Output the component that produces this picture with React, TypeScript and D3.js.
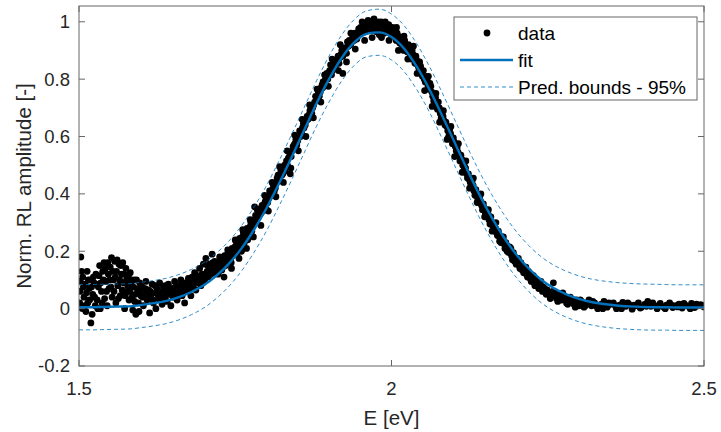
import React from "react";
import * as d3 from "d3";

// fit curve and 95% prediction bounds
const fitE = [1.5, 1.52, 1.54, 1.56, 1.58, 1.6, 1.62, 1.64, 1.66, 1.68, 1.7, 1.72, 1.74, 1.76, 1.78, 1.8, 1.82, 1.84, 1.86, 1.88, 1.9, 1.92, 1.94, 1.96, 1.98, 2.0, 2.02, 2.04, 2.06, 2.08, 2.1, 2.12, 2.14, 2.16, 2.18, 2.2, 2.22, 2.24, 2.26, 2.28, 2.3, 2.32, 2.34, 2.36, 2.38, 2.4, 2.42, 2.44, 2.46, 2.48, 2.5];
const fitV = [0.005, 0.005, 0.006, 0.007, 0.008, 0.013, 0.019, 0.027, 0.04, 0.058, 0.082, 0.115, 0.157, 0.21, 0.275, 0.35, 0.436, 0.527, 0.621, 0.715, 0.8, 0.873, 0.927, 0.958, 0.963, 0.947, 0.907, 0.845, 0.767, 0.678, 0.584, 0.49, 0.4, 0.319, 0.248, 0.188, 0.139, 0.1, 0.071, 0.05, 0.034, 0.023, 0.016, 0.011, 0.008, 0.006, 0.005, 0.005, 0.004, 0.004, 0.004];
const upperV = [0.084, 0.084, 0.085, 0.086, 0.087, 0.092, 0.098, 0.106, 0.119, 0.137, 0.161, 0.194, 0.236, 0.289, 0.354, 0.429, 0.515, 0.606, 0.7, 0.794, 0.88, 0.953, 1.007, 1.038, 1.044, 1.027, 0.987, 0.925, 0.847, 0.758, 0.664, 0.57, 0.48, 0.399, 0.328, 0.268, 0.219, 0.18, 0.151, 0.13, 0.114, 0.103, 0.096, 0.091, 0.088, 0.086, 0.085, 0.084, 0.083, 0.083, 0.083];
const lowerV = [-0.074, -0.074, -0.073, -0.072, -0.071, -0.066, -0.06, -0.052, -0.039, -0.021, 0.003, 0.036, 0.078, 0.131, 0.196, 0.271, 0.357, 0.448, 0.542, 0.636, 0.72, 0.793, 0.847, 0.878, 0.883, 0.867, 0.827, 0.765, 0.688, 0.598, 0.504, 0.41, 0.32, 0.239, 0.168, 0.108, 0.059, 0.02, -0.009, -0.03, -0.046, -0.057, -0.064, -0.069, -0.072, -0.074, -0.075, -0.075, -0.076, -0.076, -0.076];

// measured points [E, amplitude]
const dataLow = [[1.501, 0.02], [1.502, 0.095], [1.503, 0.18], [1.505, 0.0], [1.506, 0.11], [1.508, 0.04], [1.51, 0.085], [1.511, -0.01], [1.513, 0.13], [1.514, 0.02], [1.516, 0.07], [1.518, 0.1], [1.519, -0.05], [1.521, -0.02], [1.522, 0.05], [1.524, 0.09], [1.526, 0.01], [1.527, 0.12], [1.529, 0.03], [1.531, 0.075], [1.533, 0.15], [1.534, 0.0], [1.536, 0.06], [1.538, 0.13], [1.54, 0.16], [1.541, 0.035], [1.543, 0.095], [1.545, 0.01], [1.547, 0.12], [1.548, 0.07], [1.55, 0.145], [1.552, 0.178], [1.553, 0.04], [1.555, 0.1], [1.557, 0.165], [1.559, 0.02], [1.56, 0.13], [1.562, 0.08], [1.564, 0.155], [1.566, 0.045], [1.568, 0.12], [1.57, 0.16], [1.571, 0.09], [1.573, 0.0], [1.575, 0.14], [1.577, 0.06], [1.579, 0.11], [1.58, 0.03], [1.582, 0.125], [1.584, 0.08], [1.586, -0.005], [1.588, 0.1], [1.59, 0.05], [1.591, -0.02], [1.593, 0.07], [1.595, 0.02], [1.597, 0.09], [1.599, 0.045]];
const dataLow2 = [[1.5015, 0.06], [1.504, 0.13], [1.507, 0.075], [1.509, 0.01], [1.512, 0.055], [1.515, 0.1], [1.517, 0.03], [1.52, 0.075], [1.523, 0.11], [1.525, 0.04], [1.528, 0.085], [1.53, 0.0], [1.532, 0.115], [1.535, 0.09], [1.537, 0.02], [1.539, 0.1], [1.542, 0.14], [1.544, 0.06], [1.546, 0.16], [1.549, 0.1], [1.551, 0.075], [1.554, 0.13], [1.556, 0.06], [1.558, 0.11], [1.561, 0.17], [1.563, 0.035], [1.565, 0.1], [1.567, 0.15], [1.569, 0.065], [1.572, 0.12], [1.574, 0.045], [1.576, 0.1], [1.578, 0.08], [1.581, 0.06], [1.583, 0.1], [1.585, 0.04], [1.587, 0.075], [1.589, 0.025], [1.592, 0.1], [1.594, 0.055], [1.596, -0.01], [1.598, 0.065]];
const dataBase = [[1.601, 0.075], [1.603, 0.01], [1.605, 0.05], [1.607, 0.095], [1.609, 0.03], [1.611, 0.065], [1.613, -0.015], [1.615, 0.04], [1.617, 0.085], [1.619, 0.02], [1.621, 0.055], [1.623, 0.0], [1.625, 0.07], [1.627, 0.035], [1.629, 0.09], [1.631, 0.05], [1.633, 0.015], [1.635, 0.075], [1.637, 0.04], [1.639, 0.06], [1.641, 0.025], [1.643, 0.085], [1.645, 0.05], [1.647, 0.01], [1.649, 0.07], [1.651, 0.04], [1.653, 0.095], [1.655, 0.055], [1.657, 0.03], [1.659, 0.08], [1.661, 0.06], [1.663, 0.1], [1.665, 0.045], [1.667, 0.075], [1.669, 0.02], [1.671, 0.09], [1.673, 0.06], [1.675, 0.105], [1.677, 0.07], [1.679, 0.045], [1.681, 0.11], [1.683, 0.08], [1.685, 0.125], [1.687, 0.065], [1.689, 0.1], [1.691, 0.09], [1.693, 0.14], [1.695, 0.08], [1.697, 0.12], [1.699, 0.155], [1.701, 0.1], [1.703, 0.175], [1.705, 0.13], [1.707, 0.11], [1.709, 0.155], [1.711, 0.12], [1.713, 0.19], [1.715, 0.14], [1.717, 0.165], [1.719, 0.125]];
const dataBase2 = [[1.602, 0.04], [1.606, 0.07], [1.61, 0.045], [1.614, 0.06], [1.618, 0.03], [1.622, 0.08], [1.626, 0.05], [1.63, 0.03], [1.634, 0.06], [1.638, 0.08], [1.642, 0.05], [1.646, 0.07], [1.65, 0.06], [1.654, 0.075], [1.658, 0.05], [1.662, 0.08], [1.666, 0.09], [1.67, 0.06], [1.674, 0.08], [1.678, 0.09], [1.682, 0.07], [1.686, 0.095], [1.69, 0.115], [1.694, 0.1], [1.698, 0.09], [1.702, 0.12], [1.706, 0.15], [1.71, 0.13], [1.714, 0.16], [1.718, 0.14]];
const dataRise = [[1.721, 0.15], [1.724, 0.13], [1.727, 0.17], [1.73, 0.145], [1.733, 0.185], [1.736, 0.16], [1.739, 0.2], [1.742, 0.17], [1.745, 0.21], [1.748, 0.19], [1.751, 0.235], [1.754, 0.2], [1.757, 0.245], [1.76, 0.225], [1.76, 0.2], [1.763, 0.265], [1.766, 0.24], [1.769, 0.28], [1.77, 0.24], [1.772, 0.26], [1.775, 0.3], [1.778, 0.285], [1.781, 0.355], [1.781, 0.31], [1.784, 0.305], [1.787, 0.345], [1.79, 0.33], [1.793, 0.36], [1.796, 0.35], [1.799, 0.38], [1.8, 0.345], [1.802, 0.37], [1.805, 0.41], [1.808, 0.395], [1.811, 0.43], [1.814, 0.42], [1.817, 0.455], [1.82, 0.445], [1.823, 0.48], [1.826, 0.47], [1.829, 0.5], [1.83, 0.48], [1.832, 0.515], [1.835, 0.525], [1.838, 0.545], [1.838, 0.47], [1.841, 0.55], [1.844, 0.57], [1.847, 0.59], [1.85, 0.585], [1.853, 0.62], [1.856, 0.615], [1.859, 0.645], [1.86, 0.63], [1.862, 0.64], [1.865, 0.67], [1.868, 0.675], [1.871, 0.695], [1.874, 0.7], [1.877, 0.72], [1.88, 0.73], [1.883, 0.755], [1.886, 0.755], [1.889, 0.78], [1.89, 0.77], [1.892, 0.785], [1.895, 0.805], [1.898, 0.8]];
const dataRise2 = [[1.7225, 0.12], [1.7255, 0.16], [1.7285, 0.135], [1.7315, 0.175], [1.7345, 0.15], [1.7375, 0.19], [1.7405, 0.18], [1.7435, 0.16], [1.7465, 0.2], [1.7495, 0.215], [1.7525, 0.19], [1.7555, 0.23], [1.7585, 0.215], [1.7615, 0.25], [1.7645, 0.23], [1.7675, 0.27], [1.7705, 0.255], [1.7735, 0.285], [1.7765, 0.27], [1.7795, 0.3], [1.7825, 0.325], [1.7855, 0.32], [1.7885, 0.34], [1.7915, 0.35], [1.7945, 0.34], [1.7975, 0.37], [1.8005, 0.39], [1.8035, 0.385], [1.8065, 0.4], [1.8095, 0.415], [1.8125, 0.41], [1.8155, 0.44], [1.8185, 0.465], [1.8215, 0.46], [1.8245, 0.465], [1.8275, 0.49], [1.8305, 0.5], [1.8335, 0.5], [1.8365, 0.53], [1.8395, 0.53], [1.8425, 0.565], [1.8455, 0.575], [1.8485, 0.57], [1.8515, 0.6], [1.8545, 0.6], [1.8575, 0.63], [1.8605, 0.655], [1.8635, 0.655], [1.8665, 0.66], [1.8695, 0.69], [1.8725, 0.68], [1.8755, 0.71], [1.8785, 0.74], [1.8815, 0.74], [1.8845, 0.74], [1.8875, 0.77], [1.8905, 0.79], [1.8935, 0.795], [1.8965, 0.82], [1.8995, 0.815]];
const dataRise3 = [[1.725, 0.18], [1.732, 0.11], [1.738, 0.205], [1.744, 0.14], [1.75, 0.24], [1.756, 0.175], [1.762, 0.275], [1.768, 0.21], [1.774, 0.31], [1.779, 0.25], [1.785, 0.345], [1.791, 0.29], [1.797, 0.395], [1.803, 0.34], [1.809, 0.44], [1.815, 0.39], [1.821, 0.495], [1.827, 0.44], [1.833, 0.55], [1.839, 0.49], [1.845, 0.605], [1.851, 0.55], [1.857, 0.66], [1.863, 0.6], [1.869, 0.71], [1.875, 0.665], [1.881, 0.765], [1.887, 0.72], [1.893, 0.815], [1.899, 0.775]];
const dataPeak = [[1.901, 0.83], [1.904, 0.815], [1.907, 0.845], [1.91, 0.84], [1.913, 0.865], [1.916, 0.855], [1.919, 0.885], [1.922, 0.82], [1.922, 0.88], [1.925, 0.9], [1.928, 0.89], [1.931, 0.915], [1.934, 0.92], [1.937, 0.94], [1.94, 0.935], [1.943, 0.955], [1.946, 0.95], [1.949, 0.97], [1.952, 0.96], [1.955, 0.985], [1.958, 0.965], [1.961, 0.995], [1.964, 0.975], [1.967, 1.0], [1.97, 0.98], [1.973, 0.99], [1.976, 0.965], [1.979, 1.0], [1.982, 0.975], [1.985, 0.99], [1.988, 0.96], [1.991, 0.985], [1.994, 0.97], [1.997, 0.975], [2.0, 0.955], [2.003, 0.97], [2.006, 0.945], [2.009, 0.96], [2.012, 0.93], [2.015, 0.945], [2.018, 0.915], [2.021, 0.935], [2.024, 0.905], [2.027, 0.92], [2.03, 0.885], [2.033, 0.9], [2.036, 0.87], [2.039, 0.88], [2.042, 0.85], [2.045, 0.86], [2.048, 0.825]];
const dataPeak2 = [[1.9025, 0.85], [1.9055, 0.83], [1.9085, 0.86], [1.9115, 0.855], [1.9145, 0.88], [1.9175, 0.875], [1.9205, 0.9], [1.9235, 0.895], [1.9265, 0.91], [1.9295, 0.93], [1.9325, 0.935], [1.9355, 0.925], [1.9385, 0.955], [1.9415, 0.96], [1.9445, 0.94], [1.9475, 0.975], [1.9505, 0.98], [1.9535, 0.97], [1.9565, 0.995], [1.9595, 0.985], [1.9625, 1.005], [1.9655, 0.99], [1.9685, 0.97], [1.9715, 1.0], [1.9745, 0.985], [1.9775, 0.99], [1.9805, 0.955], [1.9835, 1.0], [1.9865, 0.98], [1.9895, 0.995], [1.9925, 0.965], [1.9955, 0.99], [1.9985, 0.965], [2.0015, 0.98], [2.0045, 0.955], [2.0075, 0.935], [2.0105, 0.95], [2.0135, 0.925], [2.0165, 0.93], [2.0195, 0.9], [2.0225, 0.92], [2.0255, 0.895], [2.0285, 0.905], [2.0315, 0.87], [2.0345, 0.885], [2.0375, 0.855], [2.0405, 0.865], [2.0435, 0.84], [2.0465, 0.845], [2.0495, 0.81]];
const dataPeak3 = [[1.905, 0.87], [1.915, 0.83], [1.918, 0.92], [1.928, 0.86], [1.935, 0.96], [1.942, 0.905], [1.953, 1.0], [1.957, 0.935], [1.969, 0.945], [1.972, 1.01], [1.984, 0.945], [1.99, 1.0], [1.996, 0.935], [2.008, 0.98], [2.011, 0.9], [2.02, 0.95], [2.026, 0.87], [2.035, 0.915], [2.041, 0.82]];
const dataFall = [[2.051, 0.83], [2.054, 0.79], [2.057, 0.8], [2.06, 0.765], [2.063, 0.775], [2.066, 0.74], [2.069, 0.745], [2.072, 0.71], [2.075, 0.72], [2.078, 0.68], [2.081, 0.685], [2.084, 0.655], [2.087, 0.65], [2.09, 0.62], [2.093, 0.625], [2.096, 0.59], [2.099, 0.595], [2.102, 0.565], [2.105, 0.56], [2.108, 0.53], [2.111, 0.535], [2.114, 0.5], [2.117, 0.495], [2.12, 0.47], [2.123, 0.47], [2.126, 0.44], [2.129, 0.445], [2.132, 0.41], [2.135, 0.415], [2.138, 0.385], [2.141, 0.39], [2.144, 0.36], [2.147, 0.365], [2.15, 0.335], [2.153, 0.34], [2.156, 0.31], [2.159, 0.32], [2.162, 0.29], [2.165, 0.295], [2.168, 0.265], [2.171, 0.27], [2.174, 0.245], [2.177, 0.25], [2.18, 0.225], [2.183, 0.23], [2.186, 0.205], [2.189, 0.215], [2.192, 0.185], [2.195, 0.195], [2.198, 0.165], [2.201, 0.175], [2.204, 0.15], [2.207, 0.16], [2.21, 0.135], [2.213, 0.145], [2.216, 0.12], [2.219, 0.13], [2.222, 0.105], [2.225, 0.115], [2.228, 0.09], [2.231, 0.1], [2.234, 0.08], [2.237, 0.085], [2.24, 0.07], [2.243, 0.075], [2.246, 0.06], [2.249, 0.065]];
const dataFall2 = [[2.0525, 0.8], [2.0555, 0.81], [2.0585, 0.775], [2.0615, 0.785], [2.0645, 0.755], [2.0675, 0.725], [2.0705, 0.735], [2.0735, 0.695], [2.0765, 0.7], [2.0795, 0.665], [2.0825, 0.67], [2.0855, 0.64], [2.0885, 0.635], [2.0915, 0.6], [2.0945, 0.61], [2.0975, 0.575], [2.1005, 0.58], [2.1035, 0.55], [2.1065, 0.545], [2.1095, 0.515], [2.1125, 0.52], [2.1155, 0.48], [2.1185, 0.49], [2.1215, 0.455], [2.1245, 0.45], [2.1275, 0.425], [2.1305, 0.43], [2.1335, 0.395], [2.1365, 0.4], [2.1395, 0.37], [2.1425, 0.375], [2.1455, 0.345], [2.1485, 0.35], [2.1515, 0.32], [2.1545, 0.33], [2.1575, 0.295], [2.1605, 0.3], [2.1635, 0.275], [2.1665, 0.28], [2.1695, 0.255], [2.1725, 0.255], [2.1755, 0.23], [2.1785, 0.24], [2.1815, 0.21], [2.1845, 0.22], [2.1875, 0.195], [2.1905, 0.2], [2.1935, 0.17], [2.1965, 0.18], [2.1995, 0.155], [2.2025, 0.165], [2.2055, 0.14], [2.2085, 0.15], [2.2115, 0.125], [2.2145, 0.13], [2.2175, 0.11], [2.2205, 0.12], [2.2235, 0.095], [2.2265, 0.1], [2.2295, 0.08], [2.2325, 0.09], [2.2355, 0.07], [2.2385, 0.075], [2.2415, 0.06], [2.2445, 0.065], [2.2475, 0.05]];
const dataFall3 = [[2.053, 0.76], [2.059, 0.81], [2.065, 0.705], [2.071, 0.75], [2.077, 0.65], [2.083, 0.69], [2.089, 0.59], [2.095, 0.635], [2.101, 0.53], [2.107, 0.575], [2.113, 0.475], [2.119, 0.515], [2.125, 0.42], [2.131, 0.455], [2.137, 0.37], [2.143, 0.4], [2.149, 0.32], [2.155, 0.345], [2.161, 0.27], [2.167, 0.3], [2.173, 0.235], [2.179, 0.25], [2.185, 0.2], [2.191, 0.21], [2.197, 0.165], [2.203, 0.175], [2.209, 0.135], [2.215, 0.145], [2.221, 0.11], [2.227, 0.115], [2.233, 0.085], [2.239, 0.095], [2.245, 0.07]];
const dataTail = [[2.252, 0.055], [2.256, 0.045], [2.259, 0.09], [2.26, 0.06], [2.264, 0.035], [2.268, 0.05], [2.272, 0.03], [2.276, 0.045], [2.28, 0.02], [2.284, 0.035], [2.288, 0.025], [2.292, 0.015], [2.296, 0.03], [2.3, 0.01], [2.304, 0.025], [2.308, 0.005], [2.312, 0.02], [2.316, 0.03], [2.32, 0.01], [2.325, 0.02], [2.33, 0.0], [2.335, 0.015], [2.34, 0.025], [2.345, 0.005], [2.35, 0.015], [2.355, 0.02], [2.36, 0.0], [2.365, 0.012], [2.37, 0.022], [2.375, 0.008], [2.38, 0.015], [2.385, -0.002], [2.39, 0.01], [2.395, 0.02], [2.4, 0.005], [2.405, 0.015], [2.41, 0.025], [2.415, 0.008], [2.42, 0.012], [2.425, 0.0], [2.43, 0.018], [2.435, 0.006], [2.44, 0.012], [2.445, 0.02], [2.45, 0.004], [2.455, 0.01], [2.46, 0.016], [2.465, 0.002], [2.47, 0.012], [2.475, 0.008], [2.48, 0.018], [2.485, 0.004], [2.49, 0.01], [2.495, 0.014], [2.5, 0.006]];
const dataTail2 = [[2.254, 0.035], [2.258, 0.06], [2.262, 0.045], [2.266, 0.025], [2.27, 0.04], [2.274, 0.055], [2.278, 0.03], [2.282, 0.015], [2.286, 0.04], [2.29, 0.03], [2.294, 0.005], [2.298, 0.02], [2.302, 0.03], [2.306, 0.015], [2.31, 0.01], [2.318, 0.015], [2.322, 0.025], [2.328, 0.008], [2.338, 0.0], [2.348, 0.02], [2.358, 0.01], [2.368, 0.0], [2.378, 0.02], [2.388, 0.012], [2.398, 0.002], [2.408, 0.008], [2.418, 0.02], [2.428, 0.01], [2.438, 0.0], [2.448, 0.012], [2.458, 0.006], [2.468, 0.018], [2.478, 0.0], [2.488, 0.016], [2.498, 0.01]];

const xTicks = [1.5, 2, 2.5];
const yTicks = [-0.2, 0, 0.2, 0.4, 0.6, 0.8, 1];
const legendLabels = ["data", "fit", "Pred. bounds - 95%"];

const W = 721;
const H = 432;
const m = { left: 79, right: 704, top: 6, bottom: 366 };
const blue = "#0072BD";
const axisCol = "#666";
const textCol = "#262626";
const font = "Arial, 'Liberation Sans', Helvetica, sans-serif";

export default function App() {
  const x = d3.scaleLinear().domain([1.5, 2.5]).range([m.left, m.right]);
  const y = d3.scaleLinear().domain([-0.2, 1.055]).range([m.bottom, m.top]);

  const line = (vals: number[]) =>
    d3
      .line<number>()
      .x((_, i) => x(fitE[i]))
      .y((d) => y(d))
      .curve(d3.curveMonotoneX)(vals) || "";

  const points = [
    ...dataLow, ...dataLow2, ...dataBase, ...dataBase2, ...dataRise, ...dataRise2, ...dataRise3,
    ...dataPeak, ...dataPeak2, ...dataPeak3, ...dataFall, ...dataFall2, ...dataFall3, ...dataTail, ...dataTail2,
  ];
  const tick = 6;

  const lgX = 454;
  const lgY = 17;
  const rowY = [33, 60, 87];

  return (
    <svg width={W} height={H} style={{ position: "absolute", left: 0, top: 0, background: "#fff" }} fontFamily={font}>
      <rect x={0} y={0} width={W} height={H} fill="#fff" />
      <defs>
        <clipPath id="plotClip">
          <rect x={m.left} y={m.top} width={m.right - m.left} height={m.bottom - m.top} />
        </clipPath>
      </defs>

      <g clipPath="url(#plotClip)">
        {points.map((p, i) => (
          <circle key={i} cx={x(p[0])} cy={y(p[1])} r={3.4} fill="#000" />
        ))}
        <path d={line(fitV)} fill="none" stroke={blue} strokeWidth={2.4} />
        <path d={line(upperV)} fill="none" stroke={blue} strokeWidth={1} strokeDasharray="4,3" opacity={0.8} />
        <path d={line(lowerV)} fill="none" stroke={blue} strokeWidth={1} strokeDasharray="4,3" opacity={0.8} />
      </g>

      {/* box + ticks */}
      <rect x={m.left} y={m.top} width={m.right - m.left} height={m.bottom - m.top} fill="none" stroke={axisCol} strokeWidth={1} />
      {xTicks.map((t) => (
        <g key={"x" + t}>
          <line x1={x(t)} x2={x(t)} y1={m.bottom} y2={m.bottom - tick} stroke={axisCol} />
          <line x1={x(t)} x2={x(t)} y1={m.top} y2={m.top + tick} stroke={axisCol} />
          <text x={x(t)} y={395} textAnchor="middle" fontSize={18.5} fill={textCol}>
            {t}
          </text>
        </g>
      ))}
      {yTicks.map((t) => (
        <g key={"y" + t}>
          <line x1={m.left} x2={m.left + tick} y1={y(t)} y2={y(t)} stroke={axisCol} />
          <line x1={m.right} x2={m.right - tick} y1={y(t)} y2={y(t)} stroke={axisCol} />
          <text x={70} y={y(t)} dy="0.35em" textAnchor="end" fontSize={18.5} fill={textCol}>
            {t}
          </text>
        </g>
      ))}

      <text x={(m.left + m.right) / 2} y={425} textAnchor="middle" fontSize={20.5} fill={textCol}>
        E [eV]
      </text>
      <text
        transform={`translate(31,${(m.top + m.bottom) / 2}) rotate(-90)`}
        textAnchor="middle"
        fontSize={20.5}
        fill={textCol}
      >
        Norm. RL amplitude [-]
      </text>

      {/* legend */}
      <rect x={lgX} y={lgY} width={243} height={83} fill="#fff" stroke={axisCol} strokeWidth={1} />
      <circle cx={487} cy={rowY[0]} r={3.4} fill="#000" />
      <line x1={460} x2={513} y1={rowY[1]} y2={rowY[1]} stroke={blue} strokeWidth={2.4} />
      <line x1={460} x2={513} y1={rowY[2]} y2={rowY[2]} stroke={blue} strokeWidth={1} strokeDasharray="4,3" opacity={0.8} />
      {legendLabels.map((l, i) => (
        <text key={l} x={518} y={rowY[i]} dy="0.35em" fontSize={19} fill="#000">
          {l}
        </text>
      ))}
    </svg>
  );
}
